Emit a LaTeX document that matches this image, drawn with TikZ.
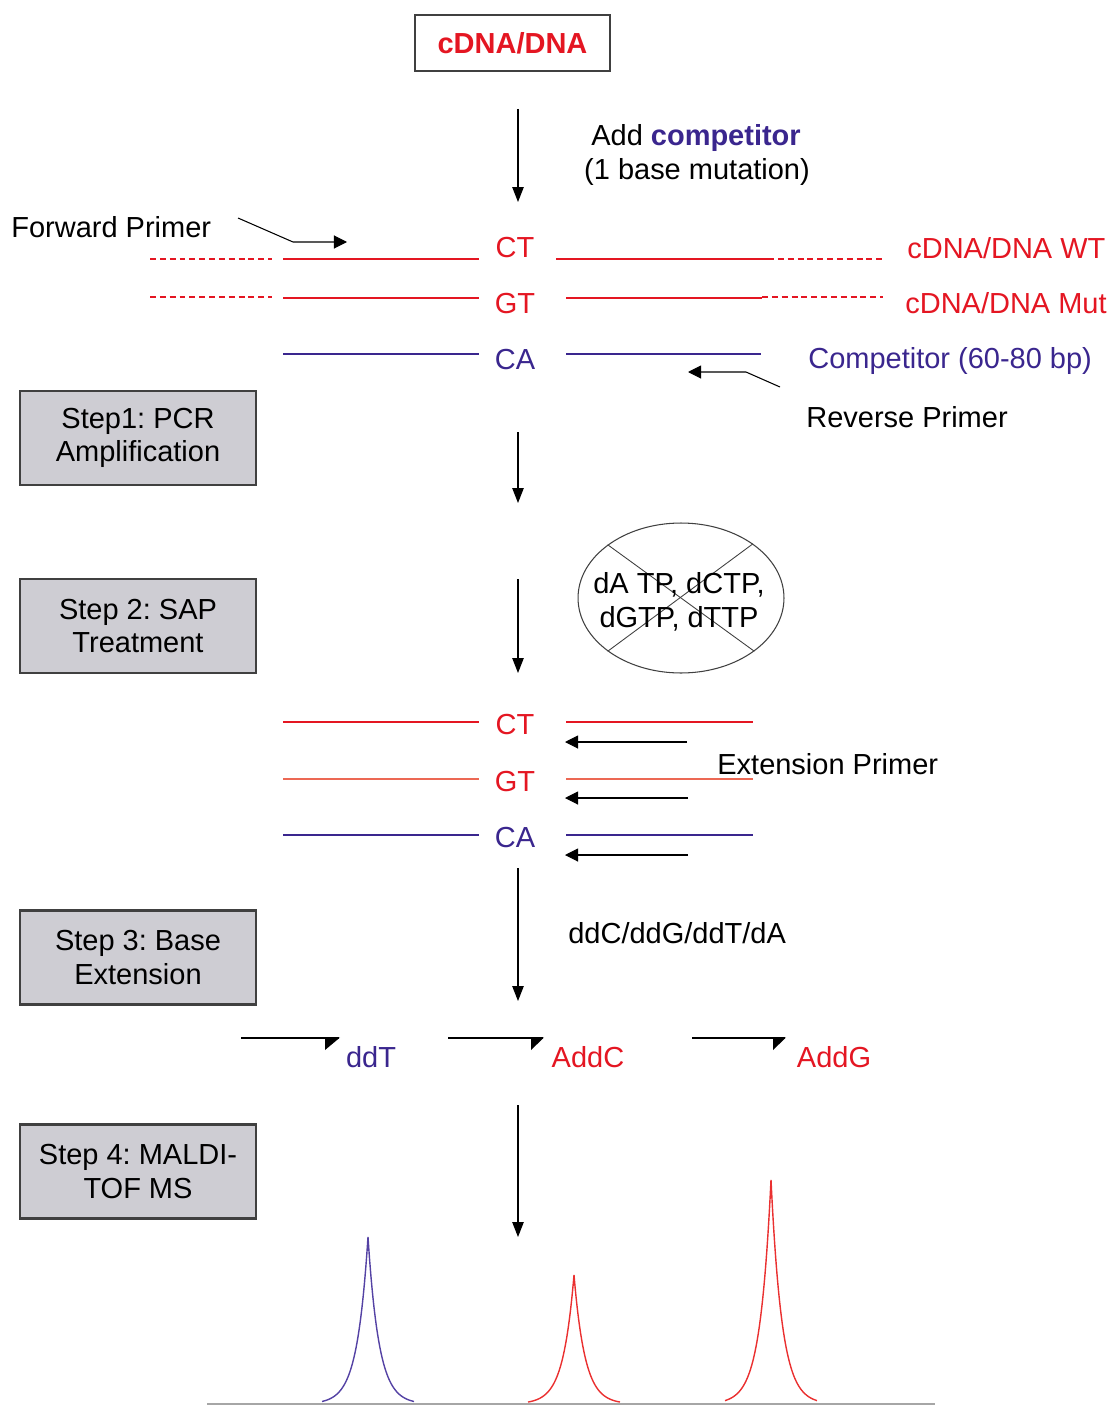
\documentclass[tikz,border=0pt]{standalone}
\usepackage{fontspec}
\setmainfont{Liberation Sans}
\usetikzlibrary{arrows.meta,shapes.geometric}
\definecolor{wtred}{RGB}{228,22,34}
\definecolor{compblue}{RGB}{58,38,142}
\definecolor{mutorange}{RGB}{236,104,84}
\definecolor{stepgray}{RGB}{206,205,211}
\definecolor{peakblue}{RGB}{84,66,164}
\definecolor{peakred}{RGB}{234,48,48}
\frenchspacing

\begin{document}
\begin{tikzpicture}[x=0.02cm,y=-0.02cm]
\tikzstyle{lbl}=[inner sep=0pt,font=\fontsize{16.5}{19}\selectfont]
\tikzstyle{stepbox}=[draw=black!75,line width=1.2pt,fill=stepgray,minimum width=4.72cm,minimum height=1.88cm,align=center,inner sep=0pt,font=\fontsize{16.5}{19}\selectfont]
\tikzstyle{flow}=[line width=0.6pt,-{Triangle[length=8.5pt,width=6.5pt]}]
\tikzstyle{primer}=[line width=0.6pt,-{Triangle[length=7.5pt,width=7.5pt]}]
\tikzstyle{strand}=[line width=1pt]
\tikzstyle{loose}=[dash pattern=on 3.4pt off 2.2pt]
\useasboundingbox (0,0) rectangle (1107,1406);

% source and competitor
\node[draw=black!75,line width=0.9pt,minimum width=3.9cm,minimum height=1.12cm,inner sep=0pt,text=wtred,font=\fontsize{16.5}{19}\selectfont\bfseries] (src) at (512.5,43) {cDNA/DNA};
\coordinate (a1s) at (518,109);
\coordinate (a1e) at (518,202);
\draw[flow] (a1s) -- (a1e);
\node[lbl,anchor=base] (addc) at (696,145) {Add \textcolor{compblue}{\bfseries competitor}};
\node[lbl,anchor=base] (mut) at (697,179) {(1 base mutation)};

% templates before PCR
\node[lbl,anchor=base west] (fwd) at (11,237) {Forward Primer};
\coordinate (fp1) at (238,218);
\coordinate (fp2) at (293,242);
\coordinate (fp3) at (347,242);
\draw[primer] (fp1) -- (fp2) -- (fp3);
\node[lbl,anchor=base,text=wtred] (ct1) at (515,257) {CT};
\node[lbl,anchor=base,text=wtred] (gt1) at (515,313) {GT};
\node[lbl,anchor=base,text=compblue] (ca1) at (515,369) {CA};
\draw[strand,wtred,loose] (150,259) -- (272,259);
\draw[strand,wtred] (283,259) -- (479,259);
\draw[strand,wtred] (556,259) -- (768,259);
\draw[strand,wtred,loose] (768,259) -- (883,259);
\draw[strand,wtred,loose] (150,297) -- (272,297);
\draw[strand,wtred] (283,298) -- (479,298);
\draw[strand,wtred] (566,298) -- (762,298);
\draw[strand,wtred,loose] (762,297) -- (883,297);
\draw[strand,compblue] (283,354) -- (479,354);
\draw[strand,compblue] (566,354) -- (761,354);
\node[lbl,anchor=base west,text=wtred] (wt) at (907,258) {cDNA/DNA WT};
\node[lbl,anchor=base west,text=wtred] (mt) at (905,313) {cDNA/DNA Mut};
\node[lbl,anchor=base west,text=compblue] (comp) at (808,368) {Competitor (60-80 bp)};
\coordinate (rp1) at (780,387);
\coordinate (rp2) at (746,372);
\coordinate (rp3) at (688,372);
\draw[primer] (rp1) -- (rp2) -- (rp3);
\node[lbl,anchor=base west] (rev) at (806,427) {Reverse Primer};

% step 1 and 2
\node[stepbox] (s1) at (138,438) {Step1: PCR\\Amplification};
\coordinate (a2s) at (518,432);
\coordinate (a2e) at (518,503);
\draw[flow] (a2s) -- (a2e);
\node[stepbox] (s2) at (138,626) {Step 2: SAP\\Treatment};
\node[ellipse,draw=black!75,line width=0.6pt,minimum width=4.12cm,minimum height=3cm,inner sep=0pt] (ntp) at (681,598) {};
\draw[black!75,line width=0.5pt] (ntp.144) -- (ntp.-36);
\draw[black!75,line width=0.5pt] (ntp.37) -- (ntp.216);
\node[lbl,align=center] (ntptxt) at (679,602) {dA TP, dCTP,\\dGTP, dTTP};
\coordinate (a3s) at (518,579);
\coordinate (a3e) at (518,673);
\draw[flow] (a3s) -- (a3e);

% templates with extension primers
\node[lbl,anchor=base,text=wtred] (ct2) at (515,734) {CT};
\node[lbl,anchor=base,text=wtred] (gt2) at (515,791) {GT};
\node[lbl,anchor=base,text=compblue] (ca2) at (515,847) {CA};
\draw[strand,wtred] (283,722) -- (479,722);
\draw[strand,wtred] (566,722) -- (753,722);
\draw[strand,mutorange] (283,779) -- (479,779);
\draw[strand,mutorange] (566,779) -- (753,779);
\draw[strand,compblue] (283,835) -- (479,835);
\draw[strand,compblue] (566,835) -- (753,835);
\coordinate (ep1s) at (687,742);
\coordinate (ep1e) at (565,742);
\coordinate (ep2s) at (688,798);
\coordinate (ep2e) at (565,798);
\coordinate (ep3s) at (688,855);
\coordinate (ep3e) at (565,855);
\draw[primer] (ep1s) -- (ep1e);
\draw[primer] (ep2s) -- (ep2e);
\draw[primer] (ep3s) -- (ep3e);
\node[lbl,anchor=base west] (ext) at (717,774) {Extension Primer};

% step 3
\coordinate (a4s) at (518,868);
\coordinate (a4e) at (518,1001);
\draw[flow] (a4s) -- (a4e);
\node[lbl,anchor=base west] (dd) at (568,943) {ddC/ddG/ddT/dA};
\node[stepbox] (s3) at (138,957.5) {Step 3: Base\\Extension};

% extension products
\draw[line width=0.7pt] (241,1038) -- (339,1038);
\fill (325,1037.5) -- (340,1037.5) -- (325,1050) -- cycle;
\node[lbl,anchor=base,text=compblue] (pt) at (371,1067) {ddT};
\draw[line width=0.7pt] (448,1038) -- (543,1038);
\fill (531,1037.5) -- (544,1037.5) -- (531,1050) -- cycle;
\node[lbl,anchor=base,text=wtred] (pc) at (588,1067) {AddC};
\draw[line width=0.7pt] (692,1038) -- (785,1038);
\fill (773,1037.5) -- (786,1037.5) -- (773,1050) -- cycle;
\node[lbl,anchor=base,text=wtred] (pg) at (834,1067) {AddG};

% step 4 and spectrum
\node[stepbox] (s4) at (138,1171.5) {Step 4: MALDI-\\TOF MS};
\coordinate (a5s) at (518,1105);
\coordinate (a5e) at (518,1237);
\draw[flow] (a5s) -- (a5e);
\draw[black!35,line width=0.8pt] (207,1404) -- (935,1404);
\draw[peakblue,line width=0.8pt] plot[domain=-46:46,samples=185] ({368+\x},{1404-167*exp(-abs(\x)/11)});
\draw[peakred,line width=0.8pt] plot[domain=-46:46,samples=185] ({574+\x},{1404-129*exp(-abs(\x)/11)});
\draw[peakred,line width=0.8pt] plot[domain=-46:46,samples=185] ({771+\x},{1404-224*exp(-abs(\x)/11)});
\end{tikzpicture}
\end{document}
